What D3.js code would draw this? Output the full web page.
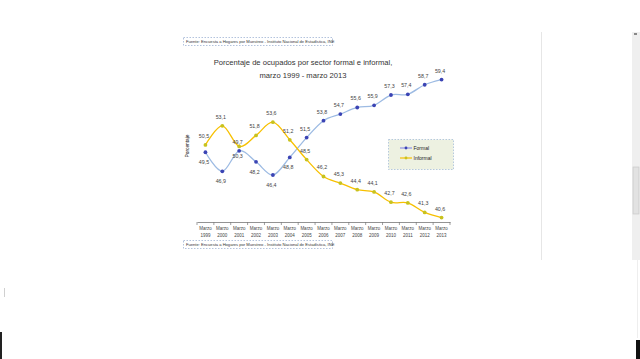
<!DOCTYPE html>
<html><head><meta charset="utf-8">
<script src="https://cdn.jsdelivr.net/npm/d3@7"></script>
<style>html,body{margin:0;padding:0;background:#fff;overflow:hidden}</style>
</head><body>
<svg id="c" width="640" height="359"></svg>
<script>
const years = ["1999","2000","2001","2002","2003","2004","2005","2006","2007","2008","2009","2010","2011","2012","2013"];
const formal = [49.5,46.9,49.7,48.2,46.4,48.8,51.5,53.8,54.7,55.6,55.9,57.3,57.4,58.7,59.4];
const informal = [50.5,53.1,50.3,51.8,53.6,51.2,48.5,46.2,45.3,44.4,44.1,42.7,42.6,41.3,40.6];
const formalLabelAbove = [false,false,true,false,false,false,true,true,true,true,true,true,true,true,true];
const informalLabelAbove = [true,true,false,true,true,true,true,true,true,true,true,true,true,true,true];
const sourceText = "Fuente: Encuesta a Hogares por Muestreo - Instituto Nacional de Estadística, INE";

const svg = d3.select("#c");
const fmt = v => String(v.toFixed(1)).replace(".", ",");
const txt = "#444";

// page chrome
svg.append("line").attr("x1",541.5).attr("x2",541.5).attr("y1",32).attr("y2",260).attr("stroke","#e6e6e6");
svg.append("rect").attr("x",632).attr("y",32).attr("width",8).attr("height",228).attr("fill","#efefef");
svg.append("rect").attr("x",633).attr("y",167).attr("width",6).attr("height",47).attr("fill","#e2e2e2").attr("stroke","#c4c4c4").attr("stroke-width",0.6);
svg.append("rect").attr("x",634).attr("y",33).attr("width",3).attr("height",2).attr("fill","#888");
svg.append("line").attr("x1",637.5).attr("x2",637.5).attr("y1",260).attr("y2",338).attr("stroke","#eeeeee");
svg.append("rect").attr("x",636).attr("y",340).attr("width",4).attr("height",19).attr("fill","#111");
svg.append("rect").attr("x",0).attr("y",332).attr("width",2).attr("height",27).attr("fill","#222");
svg.append("line").attr("x1",4.5).attr("x2",4.5).attr("y1",288).attr("y2",297).attr("stroke","#d0d0d0");

// source boxes
function sourceBox(y){
  svg.append("rect").attr("x",183.5).attr("y",y+0.5).attr("width",149).attr("height",8)
    .attr("fill","#fff").attr("stroke","#9fb4d4").attr("stroke-width",0.8).attr("stroke-dasharray","1.5,1.5");
  svg.append("text").attr("x",186).attr("y",y+6).attr("font-family","Liberation Sans, Arial").attr("font-size",4.1)
    .attr("fill","#333").text(sourceText);
}
sourceBox(37);
sourceBox(240);

// title
const title = svg.append("text").attr("font-family","Liberation Sans, Arial").attr("font-size",7.6).attr("fill","#333").attr("text-anchor","middle");
title.append("tspan").attr("x",303).attr("y",65).text("Porcentaje de ocupados  por sector formal e informal,");
title.append("tspan").attr("x",303).attr("y",78).text("marzo 1999 - marzo 2013");

// scales
const x = d3.scaleBand().domain(years).range([197,450]);
const y = d3.scaleLinear().domain([40,60]).range([222,75.2]);
const cx = d => x(d) + x.bandwidth()/2;

// y label
svg.append("text").attr("transform","translate(189,146) rotate(-90)").attr("text-anchor","middle")
  .attr("font-family","Liberation Sans, Arial").attr("font-size",4.8).attr("fill","#222").text("Porcentaje");

// x axis
const xa = svg.append("g").attr("transform","translate(0,222)")
  .call(d3.axisBottom(x).tickSize(0).tickFormat(""));
xa.select(".domain").attr("stroke","#777").attr("stroke-width",0.8);
const bounds = years.map(d => x(d)).concat([x(years[years.length-1]) + x.bandwidth()]);
xa.selectAll("line.tk").data(bounds).enter().append("line").attr("class","tk")
  .attr("x1",d=>d).attr("x2",d=>d).attr("y1",0).attr("y2",3).attr("stroke","#777").attr("stroke-width",0.7);
const lab = svg.append("g").attr("font-family","Liberation Sans, Arial").attr("font-size",4.5).attr("fill",txt).attr("text-anchor","middle");
years.forEach(d => {
  lab.append("text").attr("x",cx(d)).attr("y",230).text("Marzo");
  lab.append("text").attr("x",cx(d)).attr("y",236.5).text(d);
});

// lines
const line = d3.line().x((v,i)=>cx(years[i])).y(v=>y(v)).curve(d3.curveCatmullRom.alpha(0));
svg.append("path").datum(formal).attr("d",line).attr("fill","none").attr("stroke","#9dbbe3").attr("stroke-width",1.3);
svg.append("path").datum(informal).attr("d",line).attr("fill","none").attr("stroke","#f7c000").attr("stroke-width",1.3);

svg.append("g").selectAll("circle").data(formal).enter().append("circle")
  .attr("cx",(v,i)=>cx(years[i])).attr("cy",v=>y(v)).attr("r",1.9).attr("fill","#3b44b4");
svg.append("g").selectAll("circle").data(informal).enter().append("circle")
  .attr("cx",(v,i)=>cx(years[i])).attr("cy",v=>y(v)).attr("r",1.9).attr("fill","#c8c21e");

// data labels
const dl = svg.append("g").attr("font-family","Liberation Sans, Arial").attr("font-size",5.3).attr("fill",txt).attr("text-anchor","middle");
formal.forEach((v,i)=>{
  dl.append("text").attr("x",cx(years[i])-1.5).attr("y",y(v)+(formalLabelAbove[i]?-7:12)).text(fmt(v));
});
informal.forEach((v,i)=>{
  dl.append("text").attr("x",cx(years[i])-1.5).attr("y",y(v)+(informalLabelAbove[i]?-7:12)).text(fmt(v));
});

// legend
svg.append("rect").attr("x",388.5).attr("y",139.5).attr("width",65).attr("height",30)
  .attr("fill","#edf1e1").attr("stroke","#a6bcd8").attr("stroke-width",0.8).attr("stroke-dasharray","1.5,1.5");
const lg = [["Formal","#8f93e8","#3b44b4"],["Informal","#f7c000","#c8c21e"]];
lg.forEach((e,i)=>{
  const ly = 148 + i*10;
  svg.append("line").attr("x1",400).attr("x2",412).attr("y1",ly).attr("y2",ly).attr("stroke",e[1]).attr("stroke-width",1.2);
  svg.append("circle").attr("cx",406).attr("cy",ly).attr("r",1.4).attr("fill",e[2]);
  svg.append("text").attr("x",413.5).attr("y",ly+1.8).attr("font-family","Liberation Sans, Arial").attr("font-size",5)
    .attr("fill","#222").text(e[0]);
});
</script>
</body></html>
